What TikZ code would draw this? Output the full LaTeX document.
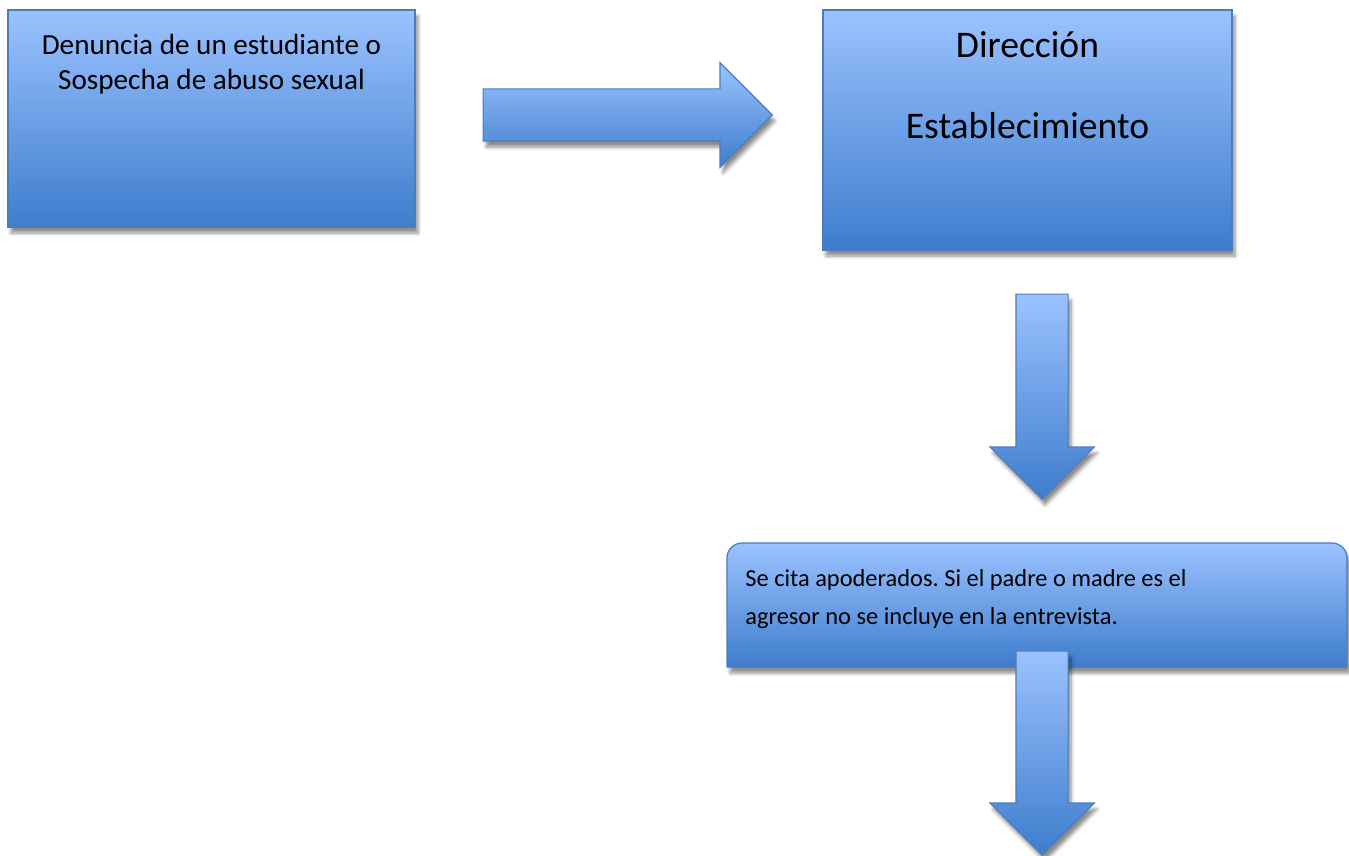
\documentclass[tikz,border=0pt]{standalone}
\usepackage{fontspec}
\setmainfont{Carlito}
\frenchspacing
\usetikzlibrary{shapes.arrows,shadows.blur,positioning}
\definecolor{boxtop}{RGB}{155,194,255}
\definecolor{boxbot}{RGB}{62,125,205}
\definecolor{boxedge}{RGB}{74,126,187}
\begin{document}
\begin{tikzpicture}[
		every node/.style={
				font=\fontsize{16.6}{19.4}\selectfont,
			},
		box/.style={draw=boxedge, line width=0.7pt, top color=boxtop, bottom color=boxbot,
				inner sep=0pt, blur shadow={shadow xshift=0.06cm, shadow yshift=-0.12cm, shadow opacity=45, shadow blur steps=6}},
		blockarrow/.style={box, single arrow, single arrow head extend=0.52cm,
				inner sep=0.51cm, minimum width=2.06cm, anchor=tip},
		boxtext/.style={inner sep=0pt, align=center},
	]
	\useasboundingbox (0,0) rectangle (26.98,-17.12);
	\node[box, minimum width=8.14cm, minimum height=4.34cm] (denuncia) at (4.23,-2.37) {};
	\node[boxtext, below=0.5cm of denuncia.north] (denuncia text) {Denuncia de un estudiante o\\Sospecha de abuso sexual};

	\node[blockarrow, minimum height=5.78cm] (flecha1) at (15.46,-2.3) {};

	\node[box, minimum width=8.18cm, minimum height=4.8cm] (direccion) at (20.55,-2.6) {};
	\node[boxtext, font=\fontsize{21.4}{26}\selectfont, below=0.44cm of direccion.north] (direccion text) {Dirección\\[0.70cm]Establecimiento};

	\node[blockarrow, shape border rotate=270, minimum height=4.1cm] (flecha2) at (20.84,-10.0) {};

	% caja con esquinas superiores redondeadas
	\path[box] (14.54,-13.34) -- (14.54,-11.16) arc[start angle=180, end angle=90, radius=0.3]
		-- (26.64,-10.86) arc[start angle=90, end angle=0, radius=0.3] -- (26.94,-13.34) -- cycle;
	\node[anchor=west, align=left, inner sep=0pt, font=\fontsize{13.9}{21.6}\selectfont] (cita) at (14.9,-11.98)
		{Se cita apoderados. Si el padre o madre es el\\agresor no se incluye en la entrevista.};

	\node[blockarrow, shape border rotate=270, minimum height=4.08cm] (flecha3) at (20.84,-17.12) {};
\end{tikzpicture}
\end{document}
